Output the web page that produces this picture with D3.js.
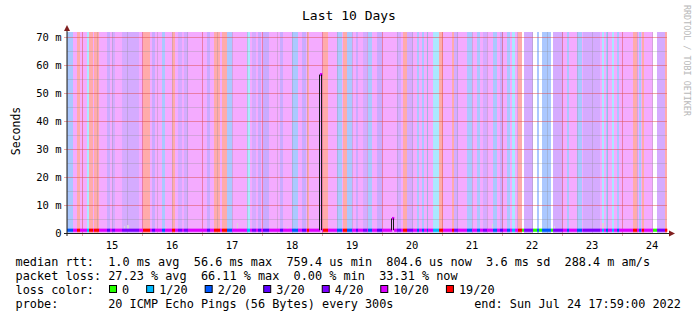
<!DOCTYPE html>
<html>
<head>
<meta charset="utf-8">
<script src="https://cdn.jsdelivr.net/npm/d3@7"></script>
<style>
  body { margin: 0; background: #fff; }
  text { font-family: "DejaVu Sans Mono", monospace; white-space: pre; }
</style>
</head>
<body>
<svg id="chart" width="697" height="321"></svg>
<script>
// loss categories (smokeping defaults)
var lossLevels = [0, 1, 2, 3, 4, 10, 19];
var lossLabels = ["0", "1/20", "2/20", "3/20", "4/20", "10/20", "19/20"];
var lossColors = ["#26ff00", "#00b8ff", "#0059ff", "#5e00ff", "#7e00ff", "#dd00ff", "#ff0000"];

// loss per 24 min slot, run length encoded: [loss level, number of slots]
var lossRuns = [
  [2,6],[10,4],[19,3],[10,7],[1,2],[19,4],[10,1],[19,5],[10,8],[3,3],[10,2],[4,3],[10,7],
  [4,17],[10,4],[19,7],[10,2],[3,3],[10,7],[2,3],[10,7],[19,3],[10,3],[4,4],[10,2],[4,4],
  [10,19],[3,3],[10,4],[19,6],[10,2],[19,5],[2,5],[10,15],[1,3],[10,2],[4,4],[10,2],[3,3],
  [10,2],[3,6],[10,11],[3,3],[10,9],[2,6],[10,4],[3,4],[10,1],[19,2],[10,14],[19,5],[10,9],
  [2,5],[10,1],[19,4],[2,5],[10,4],[3,2],[10,5],[4,4],[10,1],[2,4],[10,5],[3,5],[10,15],
  [4,4],[10,2],[19,4],[4,6],[10,4],[2,2],[10,3],[2,2],[10,3],[2,1],[10,5],[1,6],[19,4],
  [10,9],[19,2],[4,4],[10,9],[2,5],[10,5],[2,3],[10,3],[4,4],[10,6],[2,4],[10,3],[3,3],
  [10,4],[2,3],[10,2],[1,3],[10,3],[19,4],[0,2],[4,9],[0,4],[2,2],[0,3],[2,9],[0,2],
  [4,10],[10,4],[2,2],[10,8],[2,5],[10,1],[4,17],[10,2],[1,2],[10,2],[2,2],[10,4],[1,2],
  [10,3],[2,2],[10,14],[19,4],[10,2],[2,2],[10,1],[19,2],[10,9],[0,4],[4,8],[19,2]
];

// median rtt in ms: flat baseline plus the slots that stand out
var medianBase = 1.0;
var medianPeaks = [[253, 56.6], [254, 56.6], [325, 5.2], [326, 5.2]];
// visible smoke tops [slot, ms]
var smokeTops = [[57, 2.4], [60, 2.8], [61, 2.8], [98, 2.2], [170, 3.6], [220, 2.0],
                 [229, 1.9], [348, 2.2], [425, 3.1], [487, 2.4], [535, 3.4], [536, 3.4]];

var yTicks = [0, 10, 20, 30, 40, 50, 60, 70];
var yTickLabels = ["0", "10 m", "20 m", "30 m", "40 m", "50 m", "60 m", "70 m"];
var dayLabels = ["15", "16", "17", "18", "19", "20", "21", "22", "23", "24"];

var statLines = [
  "median rtt:  1.0 ms avg  56.6 ms max  759.4 us min  804.6 us now  3.6 ms sd  288.4 m am/s",
  "packet loss: 27.23 % avg  66.11 % max  0.00 % min  33.31 % now"
];
var probeText = "probe:       20 ICMP Echo Pings (56 Bytes) every 300s";
var endText = "end: Sun Jul 24 17:59:00 2022";

var svg = d3.select("#chart");
var MARGINS = { top: 32, right: 30, bottom: 88, left: 67 },
    WIDTH = 697, HEIGHT = 321,
    x0 = MARGINS.left, x1 = WIDTH - MARGINS.right,
    y0 = HEIGHT - MARGINS.bottom, y1 = MARGINS.top;

var start = new Date(2022, 6, 14, 17, 59, 0),
    end = new Date(2022, 6, 24, 17, 59, 0),
    slotMs = 24 * 60 * 1000;

var xScale = d3.scaleTime().domain([start, end]).range([x0, x1]);
var yScale = d3.scaleLinear().domain([0, 71.8]).range([y0, y1]);
var slotX = function(i) { return xScale(new Date(start.getTime() + i * slotMs)); };
var colorOf = function(l) { return lossColors[lossLevels.indexOf(l)]; };

// expand runs into slots
var slots = [];
lossRuns.forEach(function(r) { for (var k = 0; k < r[1]; k++) slots.push(r[0]); });

var peakMap = {};
medianPeaks.forEach(function(p) { peakMap[p[0]] = p[1]; });

// background loss stripes
svg.append("g").selectAll("rect")
  .data(slots.map(function(l, i) { return { i: i, l: l }; }).filter(function(d) { return d.l > 0; }))
  .enter().append("rect")
    .attr("x", function(d) { return slotX(d.i); })
    .attr("width", function(d) { return slotX(d.i + 1) - slotX(d.i); })
    .attr("y", y1)
    .attr("height", y0 - y1)
    .attr("fill", function(d) { return colorOf(d.l); })
    .attr("fill-opacity", 0.33)
    .attr("shape-rendering", "crispEdges");

// grid
var grid = svg.append("g").attr("shape-rendering", "crispEdges");
var minorY = d3.range(5, 71, 10);
grid.selectAll(".hmin").data(minorY).enter().append("line")
  .attr("x1", x0).attr("x2", x1)
  .attr("y1", function(d) { return Math.round(yScale(d)) + 0.5; })
  .attr("y2", function(d) { return Math.round(yScale(d)) + 0.5; })
  .attr("stroke", "#8f8f8f").attr("stroke-opacity", 0.3);
var minorX = d3.timeHour.every(6).range(start, end).filter(function(d) { return d.getHours() !== 0; });
grid.selectAll(".vmin").data(minorX).enter().append("line")
  .attr("x1", function(d) { return Math.round(xScale(d)) + 0.5; })
  .attr("x2", function(d) { return Math.round(xScale(d)) + 0.5; })
  .attr("y1", y1).attr("y2", y0)
  .attr("stroke", "#8f8f8f").attr("stroke-opacity", 0.3);
grid.selectAll(".hmaj").data(yTicks).enter().append("line")
  .attr("x1", x0 - 3).attr("x2", x1)
  .attr("y1", function(d) { return Math.round(yScale(d)) + 0.5; })
  .attr("y2", function(d) { return Math.round(yScale(d)) + 0.5; })
  .attr("stroke", "#de4f4f").attr("stroke-opacity", 0.5);
grid.selectAll(".vmaj").data(d3.timeDay.range(start, end)).enter().append("line")
  .attr("x1", function(d) { return Math.round(xScale(d)) + 0.5; })
  .attr("x2", function(d) { return Math.round(xScale(d)) + 0.5; })
  .attr("y1", y1).attr("y2", y0 + 3)
  .attr("stroke", "#de4f4f").attr("stroke-opacity", 0.5);

// smoke
svg.append("g").selectAll("rect").data(smokeTops).enter().append("rect")
  .attr("x", function(d) { return slotX(d[0]); })
  .attr("width", function(d) { return slotX(d[0] + 1) - slotX(d[0]); })
  .attr("y", function(d) { return yScale(d[1]); })
  .attr("height", function(d) { return yScale(medianBase) - yScale(d[1]); })
  .attr("fill", "#d8d8d8")
  .attr("shape-rendering", "crispEdges");

// median line coloured by loss
svg.append("g").selectAll("rect")
  .data(slots.map(function(l, i) { return { i: i, l: l, m: peakMap[i] || medianBase }; }))
  .enter().append("rect")
    .attr("x", function(d) { return slotX(d.i); })
    .attr("width", function(d) { return slotX(d.i + 1) - slotX(d.i) + 0.3; })
    .attr("y", function(d) { return yScale(d.m) - 1.5; })
    .attr("height", 3)
    .attr("fill", function(d) { return colorOf(d.l); });

// vertical steps of the median
var steps = [];
for (var i = 1; i < slots.length; i++) {
  var a = peakMap[i - 1] || medianBase, b = peakMap[i] || medianBase;
  if (a !== b) steps.push({ i: i, a: a, b: b });
}
svg.append("g").selectAll("line").data(steps).enter().append("line")
  .attr("x1", function(d) { return Math.round(slotX(d.i)) - 0.5; })
  .attr("x2", function(d) { return Math.round(slotX(d.i)) - 0.5; })
  .attr("y1", function(d) { return yScale(d.a); })
  .attr("y2", function(d) { return yScale(d.b); })
  .attr("stroke", "#1a1a1a").attr("stroke-width", 1);

// axes
svg.append("line").attr("x1", x0 - 3).attr("x2", x1 + 3).attr("y1", y0 + 0.5).attr("y2", y0 + 0.5)
  .attr("stroke", "#1f1f1f");
svg.append("line").attr("x1", x0).attr("x2", x0).attr("y1", y0 + 3).attr("y2", y1 - 4)
  .attr("stroke", "#1f1f1f");
svg.append("path").attr("d", "M" + (x1 + 2) + "," + (y0 - 2.5) + "L" + (x1 + 8) + "," + (y0 + 0.5) + "L" + (x1 + 2) + "," + (y0 + 3.5) + "Z")
  .attr("fill", "#801f1f");
svg.append("path").attr("d", "M" + (x0 - 3) + "," + (y1 - 1) + "L" + x0 + "," + (y1 - 7) + "L" + (x0 + 3) + "," + (y1 - 1) + "Z")
  .attr("fill", "#801f1f");

// tick labels
svg.append("g").selectAll("text").data(yTicks).enter().append("text")
  .attr("x", x0 - 5.5)
  .attr("y", function(d) { return yScale(d) + 3.8; })
  .attr("text-anchor", "end")
  .attr("font-size", "10.5px")
  .text(function(d, i) { return yTickLabels[i]; });

svg.append("g").selectAll("text").data(dayLabels).enter().append("text")
  .attr("x", function(d) { return xScale(new Date(2022, 6, +d, 12)); })
  .attr("y", y0 + 15.5)
  .attr("text-anchor", "middle")
  .attr("font-size", "10.5px")
  .text(function(d) { return d; });

// title, axis title, watermark
svg.append("text").attr("x", 349).attr("y", 20).attr("text-anchor", "middle")
  .attr("font-size", "13px").text("Last 10 Days");
svg.append("text").attr("transform", "translate(19.5,131) rotate(-90)")
  .attr("text-anchor", "middle").attr("font-size", "11.5px").text("Seconds");
svg.append("text").attr("transform", "translate(684,5) rotate(90)")
  .attr("font-size", "8.4px").attr("fill", "#b8b8b8").text("RRDTOOL / TOBI OETIKER");

// legend
var FS = "11.85px";
statLines.forEach(function(s, i) {
  svg.append("text").attr("x", 15.5).attr("y", 265.5 + i * 14).attr("font-size", FS).text(s);
});
svg.append("text").attr("x", 15.5).attr("y", 293.5).attr("font-size", FS).text("loss color:");
var lx = 109.5;
lossLabels.forEach(function(lab, i) {
  svg.append("rect").attr("x", lx).attr("y", 285.5).attr("width", 7).attr("height", 7)
    .attr("fill", lossColors[i]).attr("stroke", "#000");
  var t = svg.append("text").attr("x", lx + 12.5).attr("y", 293.5).attr("font-size", FS).text(lab);
  lx = lx + 12.5 + t.node().getComputedTextLength() + 17.5;
});
svg.append("text").attr("x", 15.5).attr("y", 307.5).attr("font-size", FS).text(probeText);
svg.append("text").attr("x", 681).attr("y", 307.5).attr("text-anchor", "end").attr("font-size", FS).text(endText);
</script>
</body>
</html>
